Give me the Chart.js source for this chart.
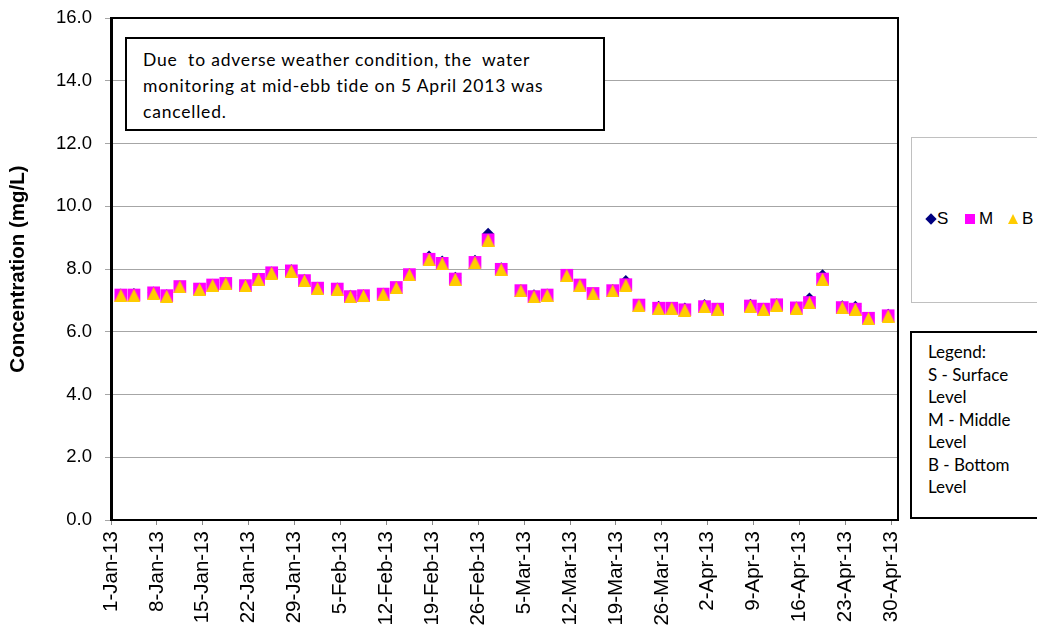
<!DOCTYPE html>
<html><head><meta charset="utf-8">
<script src="https://cdn.jsdelivr.net/npm/chart.js@4.4.1/dist/chart.umd.min.js"></script>
<style>
html,body{margin:0;padding:0;background:#fff;}
#wrap{position:relative;width:1037px;height:631px;overflow:hidden;background:#fff;}
#c{position:absolute;left:0;top:0;}
.note{position:absolute;left:125px;top:37px;width:480px;height:94px;box-sizing:border-box;border:2px solid #000;background:#fff;font-family:Lato,"Open Sans",sans-serif;font-size:17.5px;letter-spacing:0.8px;line-height:26px;padding:8px 0 0 16px;white-space:pre;color:#000;}
.leg1{position:absolute;left:911px;top:137px;width:140px;height:166px;box-sizing:border-box;border:1px solid #c0c0c0;background:#fff;}
.leg2{position:absolute;left:910px;top:331px;width:140px;height:188px;box-sizing:border-box;border:2px solid #000;background:#fff;font-family:Lato,"Open Sans",sans-serif;font-size:17px;line-height:22.5px;padding:8px 0 0 16px;white-space:pre;color:#000;}
.lt{position:absolute;font-family:"Liberation Sans",Arial,sans-serif;font-size:17px;line-height:20px;top:209px;color:#000;}
.mk{position:absolute;}
</style>
</head><body>
<div id="wrap">
<canvas id="c" width="1037" height="631"></canvas>
<div class="note">Due  to adverse weather condition, the  water
monitoring at mid-ebb tide on 5 April 2013 was
cancelled.</div>
<div class="leg1"></div>
<div class="mk" style="left:927px;top:215px;width:8px;height:8px;background:#000080;transform:rotate(45deg);"></div>
<div class="lt" style="left:937px;">S</div>
<div class="mk" style="left:965px;top:214px;width:10px;height:10px;background:#FF00FF;"></div>
<div class="lt" style="left:979px;">M</div>
<div class="mk" style="left:1008px;top:214px;width:0;height:0;border-left:5px solid transparent;border-right:5px solid transparent;border-bottom:10px solid #FFCC00;"></div>
<div class="lt" style="left:1022px;">B</div>
<div class="leg2">Legend:
S - Surface
Level
M - Middle
Level
B - Bottom
Level</div>
</div>
<script>
// ---- data ----
const sampleDates = ['2013-01-02','2013-01-04','2013-01-07','2013-01-09','2013-01-11','2013-01-14','2013-01-16','2013-01-18','2013-01-21','2013-01-23','2013-01-25','2013-01-28','2013-01-30','2013-02-01','2013-02-04','2013-02-06','2013-02-08','2013-02-11','2013-02-13','2013-02-15','2013-02-18','2013-02-20','2013-02-22','2013-02-25','2013-02-27','2013-03-01','2013-03-04','2013-03-06','2013-03-08','2013-03-11','2013-03-13','2013-03-15','2013-03-18','2013-03-20','2013-03-22','2013-03-25','2013-03-27','2013-03-29','2013-04-01','2013-04-03','2013-04-08','2013-04-10','2013-04-12','2013-04-15','2013-04-17','2013-04-19','2013-04-22','2013-04-24','2013-04-26','2013-04-29'];
const surfaceS = [7.19,7.20,7.25,7.16,7.45,7.37,7.50,7.56,7.48,7.69,7.89,7.96,7.66,7.40,7.38,7.15,7.16,7.21,7.42,7.84,8.40,8.24,7.72,8.26,9.12,8.02,7.32,7.16,7.19,7.81,7.50,7.23,7.33,7.62,6.86,6.80,6.76,6.74,6.85,6.73,6.86,6.73,6.88,6.77,7.06,7.80,6.81,6.80,6.44,6.54];
const middleM = [7.17,7.17,7.24,7.15,7.44,7.36,7.49,7.54,7.47,7.67,7.88,7.94,7.63,7.39,7.36,7.12,7.15,7.20,7.41,7.82,8.31,8.18,7.68,8.21,8.93,7.99,7.31,7.12,7.17,7.80,7.49,7.22,7.31,7.50,6.85,6.75,6.75,6.70,6.80,6.72,6.82,6.72,6.86,6.76,6.93,7.68,6.77,6.72,6.43,6.51];
const bottomB = [7.16,7.16,7.22,7.13,7.43,7.35,7.48,7.53,7.46,7.66,7.87,7.93,7.62,7.38,7.35,7.11,7.14,7.19,7.40,7.81,8.30,8.17,7.67,8.20,8.92,7.98,7.30,7.11,7.16,7.79,7.48,7.21,7.30,7.49,6.84,6.74,6.74,6.69,6.79,6.71,6.81,6.71,6.85,6.75,6.92,7.67,6.76,6.71,6.42,6.50];
const xTickLabels = ['1-Jan-13','8-Jan-13','15-Jan-13','22-Jan-13','29-Jan-13','5-Feb-13','12-Feb-13','19-Feb-13','26-Feb-13','5-Mar-13','12-Mar-13','19-Mar-13','26-Mar-13','2-Apr-13','9-Apr-13','16-Apr-13','23-Apr-13','30-Apr-13'];
const axisStart = '2013-01-01';
const axisEnd = '2013-05-01';
const yTickLabels = ['0.0','2.0','4.0','6.0','8.0','10.0','12.0','14.0','16.0'];

// ---- helpers ----
const MON = {Jan:0,Feb:1,Mar:2,Apr:3,May:4,Jun:5,Jul:6,Aug:7,Sep:8,Oct:9,Nov:10,Dec:11};
const t0 = Date.UTC(2013,0,1);
function isoDay(s){const p=s.split('-').map(Number);return (Date.UTC(p[0],p[1]-1,p[2])-t0)/86400000;}
function labelDay(s){const p=s.split('-');return (Date.UTC(2000+Number(p[2]),MON[p[1]],Number(p[0]))-t0)/86400000;}
const tickDays = xTickLabels.map(labelDay);
// Excel date axis plots each day's value at the middle of the day slot
const pts = arr => arr.map((v,i)=>({x:isoDay(sampleDates[i])+0.5,y:v}));

function makeTri(w,h,color){const c=document.createElement('canvas');c.width=w;c.height=h;const g=c.getContext('2d');g.fillStyle=color;g.beginPath();g.moveTo(w/2,0);g.lineTo(w,h);g.lineTo(0,h);g.closePath();g.fill();return c;}
const triImg = makeTri(13,13,'#FFCC00');

const frame = {
  id:'frame',
  beforeDatasetsDraw(chart){
    const a=chart.chartArea,ctx=chart.ctx;
    ctx.save();ctx.strokeStyle='#000';ctx.lineWidth=2;
    ctx.strokeRect(a.left+1,a.top,a.right-a.left-1,a.bottom-a.top);
    ctx.restore();
  }
};

const F = '"Liberation Sans", Arial, sans-serif';
new Chart(document.getElementById('c'),{
  type:'scatter',
  data:{datasets:[
    {label:'S',data:pts(surfaceS),pointStyle:'rectRot',pointRadius:6,backgroundColor:'#000080',borderWidth:0,order:3},
    {label:'M',data:pts(middleM),pointStyle:'rect',pointRadius:9,backgroundColor:'#FF00FF',borderWidth:0,order:2},
    {label:'B',data:pts(bottomB),pointStyle:triImg,pointRadius:7,backgroundColor:'#FFCC00',borderWidth:0,order:1}
  ]},
  options:{
    responsive:false,animation:false,
    layout:{padding:{top:18,right:139,left:0,bottom:0}},
    plugins:{legend:{display:false},tooltip:{enabled:false}},
    scales:{
      x:{type:'linear',min:isoDay(axisStart),max:isoDay(axisEnd),
        afterBuildTicks(s){s.ticks=tickDays.map(v=>({value:v}));},
        afterFit(s){s.height=111;s.paddingLeft=0;s.paddingRight=0;},
        grid:{drawOnChartArea:false,drawTicks:true,tickLength:5,tickColor:'#888'},
        border:{display:true,color:'#000',width:2},
        ticks:{minRotation:90,maxRotation:90,padding:6,color:'#000',font:{family:F,size:20.5},autoSkip:false,
          callback(v){const i=tickDays.indexOf(v);return i>=0?xTickLabels[i]:'';}}
      },
      y:{min:0,max:16,
        afterBuildTicks(s){s.ticks=yTickLabels.map(t=>({value:parseFloat(t)}));},
        afterFit(s){s.width=111;s.paddingTop=0;s.paddingBottom=0;},
        grid:{color:'#a6a6a6',lineWidth:1,drawTicks:true,tickLength:6,tickColor:'#a6a6a6'},
        border:{display:true,color:'#000',width:2},
        ticks:{padding:13,color:'#000',font:{family:F,size:18.5},
          callback(v){const i=yTickLabels.findIndex(t=>parseFloat(t)===v);return i>=0?yTickLabels[i]:'';}},
        title:{display:true,text:'Concentration (mg/L)',color:'#000',font:{family:F,size:20.5,weight:'bold'},padding:{top:6,bottom:0}}
      }
    }
  },
  plugins:[frame]
});
</script>
</body></html>
